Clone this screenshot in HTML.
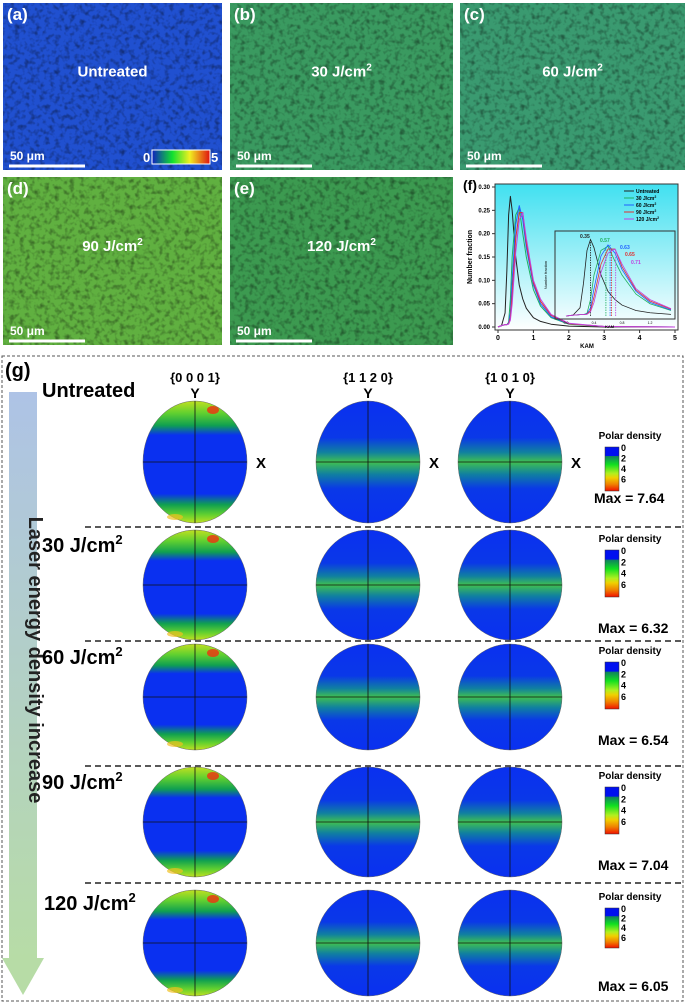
<!DOCTYPE html>
<html><head><meta charset="utf-8"><style>
body{margin:0;background:#fff;font-family:"Liberation Sans",sans-serif}
svg{display:block}
</style></head><body>
<svg width="685" height="1004" viewBox="0 0 685 1004" xmlns="http://www.w3.org/2000/svg" font-family="Liberation Sans, sans-serif" id="root">
<defs>
<filter id="grain" x="0" y="0" width="100%" height="100%">
<feTurbulence type="fractalNoise" baseFrequency="0.2" numOctaves="2" seed="3" result="n"/>
<feColorMatrix in="n" type="matrix" values="0 0 0 0 0  0 0 0 0 0  0 0 0 0 0  0 0 0 -2.4 1.3" result="m"/>
<feComposite in="m" in2="SourceGraphic" operator="in"/>
</filter>
<linearGradient id="kamBar" x1="0" x2="1"><stop offset="0" stop-color="#1020c0"/><stop offset="0.35" stop-color="#10e030"/><stop offset="0.65" stop-color="#f0f020"/><stop offset="1" stop-color="#e01010"/></linearGradient>
<linearGradient id="fbg" x1="0" y1="0" x2="0" y2="1"><stop offset="0" stop-color="#40e0f0"/><stop offset="1" stop-color="#ffffff"/></linearGradient>
<linearGradient id="arrowG" x1="0" y1="0" x2="0" y2="1"><stop offset="0" stop-color="#aec3e6"/><stop offset="1" stop-color="#b7dca6"/></linearGradient>
<linearGradient id="pf1" x1="0" y1="0" x2="0" y2="1"><stop offset="0" stop-color="#c0e020"/><stop offset="0.1" stop-color="#60d030"/><stop offset="0.2" stop-color="#10a050"/><stop offset="0.28" stop-color="#0a30f0"/><stop offset="0.76" stop-color="#0a30f0"/><stop offset="0.85" stop-color="#10a050"/><stop offset="0.93" stop-color="#60d030"/><stop offset="1" stop-color="#c0e020"/></linearGradient>
<linearGradient id="pf2" x1="0" y1="0" x2="0" y2="1"><stop offset="0" stop-color="#0a30f0"/><stop offset="0.3" stop-color="#0a38e8"/><stop offset="0.42" stop-color="#1080a0"/><stop offset="0.5" stop-color="#40c050"/><stop offset="0.6" stop-color="#1080a0"/><stop offset="0.72" stop-color="#0a38e8"/><stop offset="1" stop-color="#0a30f0"/></linearGradient>
<linearGradient id="pcb" x1="0" y1="0" x2="0" y2="1"><stop offset="0" stop-color="#0010f0"/><stop offset="0.2" stop-color="#0010f0"/><stop offset="0.21" stop-color="#108060"/><stop offset="0.4" stop-color="#10e020"/><stop offset="0.6" stop-color="#b0f020"/><stop offset="0.7" stop-color="#f0d000"/><stop offset="0.85" stop-color="#f08000"/><stop offset="1" stop-color="#f01000"/></linearGradient>
</defs>

<g id="maps"></g>
<g id="chartF"></g>

<rect x="2" y="356" width="681" height="645" fill="none" stroke="#555" stroke-dasharray="3,2"/>
<text x="5" y="377" font-size="20" font-weight="bold">(g)</text>
<g>
<rect x="9" y="392" width="28" height="568" fill="url(#arrowG)"/>
<polygon points="2,958 44,958 23,995" fill="#b7dca6"/>
<text transform="translate(29,660) rotate(90)" text-anchor="middle" font-size="20" font-weight="bold" fill="#222">Laser energy density increase</text>
</g>
<g id="poles"></g>
</svg>
<script>
const NS="http://www.w3.org/2000/svg";
function mk(tag,attrs,parent,txt){const e=document.createElementNS(NS,tag);for(const k in attrs)e.setAttribute(k,attrs[k]);if(txt!==undefined)e.textContent=txt;parent.appendChild(e);return e;}

/* ---- EBSD maps ---- */
const mapLabels=["(a)","(b)","(c)","(d)","(e)"];
const mapTitles=["Untreated","30 J/cm","60 J/cm","90 J/cm","120 J/cm"];
const mapColors=["#2050d0","#3a9a60","#3a9a70","#60b040","#3c9a50"];
const mapBoxes=[[3,3,219,167],[230,3,223,167],[460,3,225,167],[3,177,219,168],[230,177,223,168]];
const maps=document.getElementById('maps');
mapBoxes.forEach((b,i)=>{
  const g=mk('g',{},maps);
  
  
  mk('rect',{x:b[0],y:b[1],width:b[2],height:b[3],fill:mapColors[i]},g);
  mk('rect',{x:b[0],y:b[1],width:b[2],height:b[3],fill:'#0c2a40',opacity:0.4,filter:'url(#grain)'},g);
  mk('text',{x:b[0]+4,y:b[1]+17,'font-size':17,'font-weight':'bold',fill:'#fff'},g,mapLabels[i]);
  const t=mk('text',{x:b[0]+b[2]/2,y:b[1]+b[3]/2-10,'font-size':15,'font-weight':'bold',fill:'#fff','text-anchor':'middle'},g,mapTitles[i]);
  if(i>0){mk('tspan',{dy:-6,'font-size':10},t,'2');}
  mk('line',{x1:b[0]+6,x2:b[0]+82,y1:b[1]+b[3]-4,y2:b[1]+b[3]-4,stroke:'#fff','stroke-width':3},g);
  mk('text',{x:b[0]+7,y:b[1]+b[3]-10,'font-size':12,'font-weight':'bold',fill:'#fff'},g,'50 μm');
  if(i===0){
    mk('rect',{x:152,y:150,width:58,height:14,fill:'url(#kamBar)',stroke:'#fff'},g);
    mk('text',{x:143,y:162,'font-size':13,'font-weight':'bold',fill:'#fff'},g,'0');
    mk('text',{x:211,y:162,'font-size':13,'font-weight':'bold',fill:'#fff'},g,'5');
  }
});

/* ---- chart f ---- */
const kamX=[0,0.1,0.2,0.25,0.3,0.35,0.4,0.5,0.6,0.7,0.8,1.0,1.2,1.5,2,3,5];
const seriesNames=["Untreated","30  J/cm","60  J/cm","90  J/cm","120  J/cm"];
const seriesColors=["#222222","#20b060","#2060ff","#e03030","#c040e0"];
const sUntreated=[0,0.003,0.03,0.12,0.24,0.28,0.25,0.15,0.09,0.06,0.04,0.02,0.012,0.006,0.002,0,0];
const s30=[0,0.003,0.005,0.005,0.01,0.06,0.15,0.24,0.255,0.2,0.15,0.08,0.045,0.02,0.006,0.001,0];
const s60=[0,0.003,0.005,0.005,0.008,0.03,0.1,0.22,0.26,0.23,0.17,0.09,0.05,0.022,0.007,0.001,0];
const s90=[0,0.003,0.005,0.005,0.007,0.02,0.07,0.19,0.245,0.245,0.18,0.095,0.055,0.025,0.007,0.001,0];
const s120=[0,0.003,0.005,0.005,0.006,0.015,0.05,0.16,0.23,0.245,0.19,0.1,0.06,0.027,0.008,0.001,0];
const allSeries=[sUntreated,s30,s60,s90,s120];
const peakVals=["0.35","0.57","0.63","0.65","0.71"];
const yTicks=[0,0.05,0.10,0.15,0.20,0.25,0.30];
const xTicks=[0,1,2,3,4,5];
const insetXTicks=[0,0.4,0.8,1.2];

const F=document.getElementById('chartF');
const px0=495,px1=678,py0=330,py1=184;
const fx=v=>px0+3+(v/5)*(px1-px0-6);
const fy=v=>py0-3-(v/0.3)*(py0-py1-6);
mk('rect',{x:px0,y:py1,width:px1-px0,height:py0-py1,fill:'url(#fbg)',stroke:'#333'},F);
yTicks.forEach(v=>{mk('line',{x1:px0-3,x2:px0,y1:fy(v),y2:fy(v),stroke:'#333'},F);mk('text',{x:px0-5,y:fy(v)+2,'font-size':6,'font-weight':'bold','text-anchor':'end'},F,v.toFixed(2));});
xTicks.forEach(v=>{mk('line',{x1:fx(v),x2:fx(v),y1:py0,y2:py0+3,stroke:'#333'},F);mk('text',{x:fx(v),y:py0+10,'font-size':7,'font-weight':'bold','text-anchor':'middle'},F,v);});
mk('text',{x:587,y:348,'font-size':6,'font-weight':'bold','text-anchor':'middle'},F,'KAM');
mk('text',{transform:'translate(472,257) rotate(-90)','font-size':7,'font-weight':'bold','text-anchor':'middle'},F,'Number fraction');
mk('text',{x:463,y:190,'font-size':14,'font-weight':'bold'},F,'(f)');
allSeries.forEach((s,i)=>{
  const p=mk('polyline',{points:s.map((v,j)=>fx(kamX[j])+','+fy(v)).join(' '),fill:'none',stroke:seriesColors[i],'stroke-width':1,'stroke-linejoin':'round'},F);
  
  
  mk('line',{x1:624,x2:634,y1:191+i*7,y2:191+i*7,stroke:seriesColors[i]},F);
  const t=mk('text',{x:636,y:193+i*7,'font-size':5,'font-weight':'bold'},F,seriesNames[i]);
  if(i>0) mk('tspan',{dy:-2,'font-size':3.5},t,'2');
});
// inset
const ix0=555,ix1=675,iy0=319,iy1=231;
const gx=v=>ix0+4+((v+0.1)/1.6)*(ix1-ix0-8);
const gy=v=>iy0-3-(v/0.3)*(iy0-iy1-6);
mk('rect',{x:ix0,y:iy1,width:ix1-ix0,height:iy0-iy1,fill:'none',stroke:'#333'},F);
insetXTicks.forEach(v=>mk('text',{x:gx(v),y:iy0+5,'font-size':3.5,'text-anchor':'middle'},F,v.toFixed(1)));
mk('text',{x:(ix0+ix1)/2-10,y:iy0+9,'font-size':4,'font-weight':'bold'},F,'KAM');
mk('text',{transform:'translate(547,275) rotate(-90)','font-size':4,'text-anchor':'middle'},F,'Number fraction');
const peakLbl=[[580,238],[600,242],[620,249],[625,256],[631,264]];
allSeries.forEach((s,i)=>{
  const pts=[];kamX.forEach((x,j)=>{if(x<=1.5)pts.push(gx(x)+','+gy(s[j]));});
  mk('polyline',{points:pts.join(' '),fill:'none',stroke:seriesColors[i],'stroke-width':0.8},F);
  const pv=parseFloat(peakVals[i]);
  mk('line',{x1:gx(pv),x2:gx(pv),y1:gy(0),y2:gy(Math.max(...s)),stroke:seriesColors[i],'stroke-dasharray':'1.5,1','stroke-width':0.8},F);
  mk('text',{x:peakLbl[i][0],y:peakLbl[i][1],'font-size':5,'font-weight':'bold',fill:seriesColors[i]},F,peakVals[i]);
});

/* ---- pole figures ---- */
const rowNames=["Untreated","30 J/cm","60 J/cm","90 J/cm","120 J/cm"];
const maxVals=["7.64","6.32","6.54","7.04","6.05"];
const rowCY=[462,585,697,822,943];
const rowRY=[61,55,53,55,53];
const colX=[195,368,510];
const colHdr=["{0 0 0 1}","{1 1 2 0}","{1 0 1 0}"];
const sepY=[527,641,766,883];
const P=document.getElementById('poles');
sepY.forEach(y=>mk('line',{x1:85,x2:683,y1:y,y2:y,stroke:'#222','stroke-dasharray':'6,4','stroke-width':1.5},P));
rowNames.forEach((nm,r)=>{
  const cy=rowCY[r],ry=rowRY[r];
  const lbl=mk('text',{x:r===4?44:42,y:r===0?397:cy-33,'font-size':20,'font-weight':'bold'},P,nm);
  
  
  if(r>0) mk('tspan',{dy:-8,'font-size':13},lbl,'2');
  colX.forEach((cx,c)=>{
    const e=mk('ellipse',{cx:cx,cy:cy,rx:52,ry:ry,fill:c===0?'url(#pf1)':'url(#pf2)',stroke:'#666','stroke-width':0.5},P);
    
    
    if(c===0){mk('ellipse',{cx:cx+18,cy:cy-ry+9,rx:6,ry:4,fill:'#f03010',opacity:0.8},P);mk('ellipse',{cx:cx-20,cy:cy+ry-6,rx:8,ry:3,fill:'#f0c020',opacity:0.7},P);}
    mk('line',{x1:cx-52,x2:cx+52,y1:cy,y2:cy,stroke:'#111','stroke-width':0.8},P);
    mk('line',{x1:cx,x2:cx,y1:cy-ry,y2:cy+ry,stroke:'#111','stroke-width':0.8},P);
    if(r===0){
      mk('text',{x:cx,y:382,'font-size':13,'font-weight':'bold','text-anchor':'middle'},P,colHdr[c]);
      mk('text',{x:cx,y:398,'font-size':14,'font-weight':'bold','text-anchor':'middle'},P,'Y');
      mk('text',{x:cx+66,y:cy+6,'font-size':15,'font-weight':'bold','text-anchor':'middle'},P,'X');
    }
  });
  const cbTop=r===0?447:cy-35, cbH=r===0?44:(r===4?40:47);
  mk('text',{x:630,y:cbTop-8,'font-size':10,'font-weight':'bold','text-anchor':'middle'},P,'Polar density');
  const cb=mk('rect',{x:605,y:cbTop,width:14,height:cbH,fill:'url(#pcb)',stroke:'#333','stroke-width':0.5},P);
  
  
  ['0','2','4','6'].forEach((t,k)=>mk('text',{x:621,y:cbTop+4+k*cbH*0.24,'font-size':9,'font-weight':'bold'},P,t));
  mk('text',{x:r===0?594:598,y:r===0?503:cy+48,'font-size':14,'font-weight':'bold'},P,'Max = '+maxVals[r]);
});
</script>
</body></html>
